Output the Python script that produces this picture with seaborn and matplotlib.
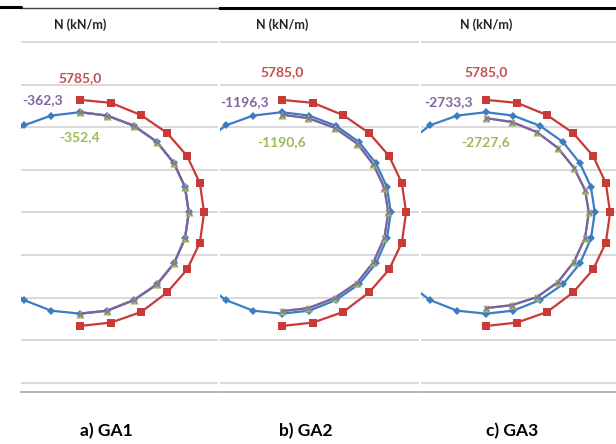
import matplotlib.pyplot as plt
import matplotlib.lines as mlines
import seaborn as sns

# Geometry of the three cropped panels (pixels of the 616x444 image)
FIG_W, FIG_H = 616, 444
PX_PER_UNIT = 42.5
CENTER_Y_PX = 212.5
TOP_PX, BOTTOM_PX = 8, 392

# Reference contour, N = 5785,0 (same in every case)
RED_X = [0.00, 0.73, 1.44, 2.05, 2.52, 2.82, 2.92, 2.82, 2.52, 2.05, 1.44, 0.73, 0.00]
RED_Y = [2.65, 2.58, 2.29, 1.87, 1.33, 0.69, 0.00, -0.71, -1.34, -1.88, -2.34, -2.59, -2.67]

# Lining contour (blue diamonds), runs past the left edge of each crop
BLUE_X = [-1.81, -1.32, -0.68, 0.00, 0.64, 1.27, 1.81, 2.21, 2.47, 2.56,
          2.47, 2.21, 1.81, 1.27, 0.64, 0.00, -0.68, -1.32, -1.81]
BLUE_Y = [1.67, 2.05, 2.28, 2.36, 2.28, 2.04, 1.66, 1.16, 0.60, 0.00,
          -0.61, -1.20, -1.69, -2.06, -2.31, -2.38, -2.31, -2.06, -1.69]

# Axial force contours per case (purple x, green triangles)
GA1_PURPLE_X = [0.00, 0.64, 1.27, 1.81, 2.21, 2.47, 2.56, 2.47, 2.21, 1.81, 1.27, 0.64, 0.00]
GA1_PURPLE_Y = [2.36, 2.28, 2.04, 1.66, 1.16, 0.60, 0.00, -0.61, -1.20, -1.69, -2.06, -2.31, -2.38]
GA1_GREEN_X = [0.00, 0.64, 1.27, 1.81, 2.21, 2.47, 2.56, 2.47, 2.21, 1.81, 1.27, 0.64, 0.00]
GA1_GREEN_Y = [2.36, 2.28, 2.04, 1.66, 1.16, 0.60, 0.00, -0.61, -1.20, -1.69, -2.06, -2.31, -2.38]

GA2_PURPLE_X = [0.00, 0.62, 1.24, 1.77, 2.15, 2.41, 2.50, 2.41, 2.15, 1.77, 1.24, 0.62, 0.00]
GA2_PURPLE_Y = [2.30, 2.22, 1.99, 1.62, 1.13, 0.58, 0.00, -0.59, -1.17, -1.65, -2.01, -2.25, -2.32]
GA2_GREEN_X = [0.00, 0.62, 1.24, 1.77, 2.15, 2.41, 2.50, 2.41, 2.15, 1.77, 1.24, 0.62, 0.00]
GA2_GREEN_Y = [2.30, 2.22, 1.99, 1.62, 1.13, 0.58, 0.00, -0.59, -1.17, -1.65, -2.01, -2.25, -2.32]

GA3_PURPLE_X = [0.00, 0.61, 1.20, 1.69, 2.07, 2.33, 2.42, 2.33, 2.07, 1.69, 1.20, 0.61, 0.00]
GA3_PURPLE_Y = [2.22, 2.13, 1.89, 1.52, 1.05, 0.53, 0.00, -0.60, -1.16, -1.64, -1.99, -2.18, -2.25]
GA3_GREEN_X = [0.00, 0.61, 1.20, 1.69, 2.07, 2.33, 2.42, 2.33, 2.07, 1.69, 1.20, 0.61, 0.00]
GA3_GREEN_Y = [2.22, 2.13, 1.89, 1.52, 1.05, 0.53, 0.00, -0.60, -1.16, -1.64, -1.99, -2.18, -2.25]

RED_LABEL = "5785,0"
PURPLE_LABELS = ["-362,3", "-1196,3", "-2733,3"]
GREEN_LABELS = ["-352,4", "-1190,6", "-2727,6"]
CAPTIONS = ["a) GA1", "b) GA2", "c) GA3"]

RED = "#c83a36"
BLUE = "#3b7cc6"
PURPLE = "#7d5fab"
GREEN = "#9bbb59"
GRID = "#d9d9d9"

PANELS = [
    dict(left=21, right=218, cx=80, red_y=3.17, pur_y=2.64, grn_y=1.78, cap_x=106,
         px=GA1_PURPLE_X, py=GA1_PURPLE_Y, gx=GA1_GREEN_X, gy=GA1_GREEN_Y, top_lw=1.0),
    dict(left=220, right=419, cx=282, red_y=3.30, pur_y=2.60, grn_y=1.65, cap_x=306,
         px=GA2_PURPLE_X, py=GA2_PURPLE_Y, gx=GA2_GREEN_X, gy=GA2_GREEN_Y, top_lw=2.2),
    dict(left=421, right=616, cx=486, red_y=3.30, pur_y=2.60, grn_y=1.65, cap_x=512,
         px=GA3_PURPLE_X, py=GA3_PURPLE_Y, gx=GA3_GREEN_X, gy=GA3_GREEN_Y, top_lw=2.2),
]


def _draw_panel(fig, idx, cfg):
    left, right, cx = cfg["left"], cfg["right"], cfg["cx"]
    ax = fig.add_axes([
        left / FIG_W,
        1 - BOTTOM_PX / FIG_H,
        (right - left) / FIG_W,
        (BOTTOM_PX - TOP_PX) / FIG_H,
    ])
    ax.set_xlim((left - cx) / PX_PER_UNIT, (right - cx) / PX_PER_UNIT)
    ax.set_ylim(-(BOTTOM_PX - CENTER_Y_PX) / PX_PER_UNIT, (CENTER_Y_PX - TOP_PX) / PX_PER_UNIT)

    ax.set_yticks(range(-4, 5))
    ax.set_xticks([])
    ax.tick_params(length=0, labelleft=False, labelbottom=False)
    ax.grid(axis="y", color=GRID, linewidth=1.4)
    ax.set_axisbelow(True)
    for side in ("left", "right"):
        ax.spines[side].set_visible(False)
    ax.spines["bottom"].set_color("#a6a6a6")
    ax.spines["bottom"].set_linewidth(1.2)
    ax.spines["top"].set_color("black" if cfg["top_lw"] > 1.5 else "#444444")
    ax.spines["top"].set_linewidth(cfg["top_lw"])

    common = dict(sort=False, estimator=None, ax=ax, legend=False)
    sns.lineplot(x=RED_X, y=RED_Y, color=RED, linewidth=1.6, marker="s",
                 markersize=6.3, markeredgewidth=0, zorder=2, **common)
    sns.lineplot(x=BLUE_X, y=BLUE_Y, color=BLUE, linewidth=1.6, marker="D",
                 markersize=3.8, markeredgewidth=0, zorder=2, **common)
    # green contour sits under the purple one; only its triangles show through
    sns.lineplot(x=cfg["gx"], y=cfg["gy"], color=GREEN, linewidth=1.6, zorder=3, **common)
    sns.lineplot(x=cfg["px"], y=cfg["py"], color=PURPLE, linewidth=1.6, zorder=4, **common)
    sns.scatterplot(x=cfg["gx"], y=cfg["gy"], color=GREEN, marker="^", s=34,
                    linewidth=0, zorder=5, ax=ax, legend=False)
    sns.scatterplot(x=cfg["px"], y=cfg["py"], color=PURPLE, marker="x", s=14,
                    linewidth=0.9, alpha=0.8, zorder=6, ax=ax, legend=False)

    font = dict(fontweight="bold", ha="center", va="center")
    ax.text(0, (CENTER_Y_PX - 25) / PX_PER_UNIT, "N (kN/m)", fontsize=9, color="#222222", **font)
    ax.text(0, cfg["red_y"], RED_LABEL, fontsize=10, color="#c0504d", **font)
    ax.text(-0.88, cfg["pur_y"], PURPLE_LABELS[idx], fontsize=10, color="#8064a2", **font)
    ax.text(0, cfg["grn_y"], GREEN_LABELS[idx], fontsize=10, color=GREEN, **font)

    fig.text(cfg["cap_x"] / FIG_W, 1 - 431 / FIG_H, CAPTIONS[idx], fontsize=12.5,
             fontweight="bold", ha="center", va="center", color="black")


def main() -> None:
    sns.set_style("white")
    plt.rcParams["font.family"] = ["Lato", "DejaVu Sans"]

    fig = plt.figure(figsize=(FIG_W / 100, FIG_H / 100), dpi=100)
    for idx, cfg in enumerate(PANELS):
        _draw_panel(fig, idx, cfg)

    # short thick piece of the page rule left of the first crop
    fig.add_artist(mlines.Line2D([0, 21 / FIG_W], [1 - 7 / FIG_H] * 2, color="black",
                                 linewidth=2.2, transform=fig.transFigure))

    fig.savefig("out.png", dpi=100)
    plt.close(fig)


if __name__ == "__main__":
    main()
